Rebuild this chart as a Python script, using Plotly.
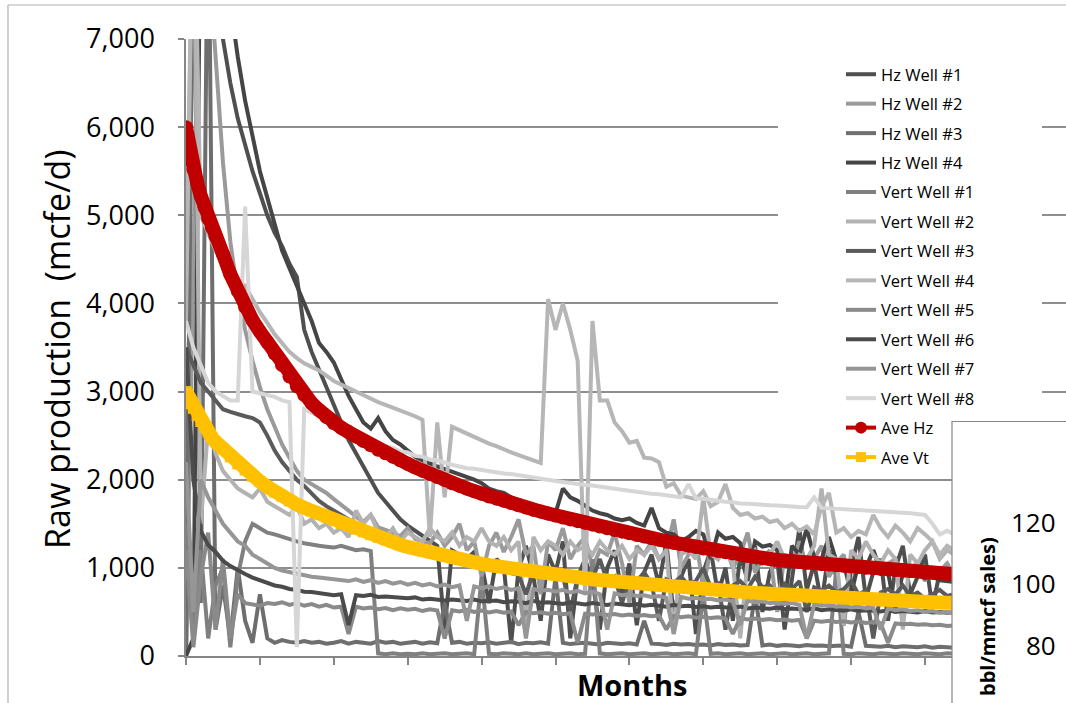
import plotly.graph_objects as go

# x positions (months index) for the individual wells
MONTHS = list(range(105))
# finer month positions for the two average curves (dense markers at start)
AVE_MONTHS = [0, 0.25, 0.5, 0.75, 1, 1.5, 2, 2.5, 3, 3.5] + list(range(4, 105))

HZ1 = [0, 9000, 9000, 8200, 7500, 7000, 6500, 6100, 5800, 5500,
       5250, 5000, 4800, 4650, 4450, 4300, 3700, 3450, 3250, 3050,
       2850, 2650, 2450, 2300, 2150, 2000, 1850, 1750, 1650, 1550,
       1480, 1420, 1360, 1300, 1250, 300, 1200, 1150, 1100, 1180,
       1050, 600, 1100, 1020, 150, 980, 1250, 900, 400, 1150,
       950, 1300, 200, 900, 1100, 850, 300, 1000, 1200, 700,
       1050, 350, 950, 1150, 800, 1300, 450, 900, 1100, 250,
       950, 1200, 700, 1000, 400, 1150, 850, 1250, 500, 950,
       1100, 300, 900, 1450, 750, 1050, 600, 1200, 900, 350,
       1000, 1350, 650, 950, 1100, 400, 1000, 1250, 700, 900,
       1150, 550, 950, 1050, 800]

HZ2 = [0, 4300, 9000, 8000, 6800, 5600, 4700, 4100, 3700, 3350,
       3050, 2800, 2600, 2400, 2250, 2100, 2000, 1950, 1900, 1850,
       1780, 1720, 1650, 1580, 1520, 1600, 1460, 1430, 1390, 1360,
       1450, 1330, 1300, 1280, 1400, 1250, 1350, 1500, 1200, 1300,
       900, 1250, 1400, 1180, 1350, 1550, 1150, 1250, 700, 1300,
       1200, 1450, 1100, 1250, 1350, 1000, 1200, 1150, 1400, 1050,
       600, 1250, 1150, 1300, 1100, 1200, 1550, 1000, 1150, 1300,
       800, 1200, 1100, 1250, 1000, 1150, 1400, 950, 1100, 1200,
       500, 1150, 1050, 1300, 1000, 1100, 1250, 900, 1050, 1150,
       750, 1100, 1000, 1200, 950, 1050, 1100, 900, 1000, 1050,
       850, 1000, 950, 1050, 900]

HZ3 = [0, 9000, 600, 9000, 300, 800, 200, 1000, 400, 150,
       700, 200, 150, 180, 160, 150, 170, 150, 160, 140,
       150, 170, 140, 160, 150, 140, 170, 150, 160, 140,
       150, 160, 140, 155, 145, 600, 150, 160, 140, 150,
       145, 155, 140, 150, 160, 135, 150, 145, 155, 140,
       900, 150, 135, 145, 150, 140, 130, 150, 140, 135,
       145, 130, 400, 140, 135, 125, 140, 130, 135, 125,
       130, 120, 135, 125, 130, 120, 125, 700, 120, 130,
       115, 125, 120, 110, 125, 115, 120, 110, 115, 120,
       105, 500, 115, 110, 105, 115, 100, 110, 105, 100,
       110, 95, 105, 100, 95]

HZ4 = [0, 200, 9000, 9000, 8500, 8000, 7400, 6800, 6300, 5900,
       5500, 5200, 4900, 4600, 4400, 4200, 4000, 3800, 3550, 3450,
       3330, 3150, 2950, 2800, 2650, 2580, 2700, 2550, 2450, 2400,
       2330, 2260, 2220, 2180, 2150, 2120, 2090, 2070, 2040, 2000,
       1960, 1900, 1870, 1850, 1800, 1760, 1720, 1690, 1660, 1640,
       1620, 1900, 1800, 1760, 1700, 1650, 1620, 1600, 1560, 1540,
       1560, 1510, 1480, 1680, 1450, 1400, 1380, 1300, 1350, 1420,
       1380, 1100, 1400, 1330, 1350, 1280, 900, 1300, 1240, 1260,
       1200, 600, 1250, 1150, 1450, 1120, 1100, 1350, 1080, 1060,
       700, 1050, 1000, 1200, 980, 950, 500, 960, 930, 920,
       880, 900, 860, 850, 840]

VT1 = [1500, 300, 1200, 200, 800, 1000, 100, 900, 1300, 1500,
       1450, 1400, 1380, 1350, 1320, 1300, 1280, 1260, 1250, 1240,
       1230, 1250, 1220, 1200, 1210, 1190, 30, 20, 30, 20,
       25, 20, 30, 20, 25, 30, 20, 25, 30, 20,
       900, 25, 20, 30, 25, 20, 30, 20, 25, 30,
       20, 25, 30, 20, 25, 1100, 30, 20, 25, 30,
       20, 25, 30, 20, 25, 30, 20, 25, 30, 20,
       700, 25, 30, 20, 25, 30, 20, 25, 30, 20,
       25, 30, 20, 25, 30, 20, 25, 30, 1000, 25,
       20, 30, 25, 20, 30, 25, 20, 30, 25, 20,
       30, 25, 20, 30, 25]

VT2 = [3800, 9000, 1500, 2600, 2300, 2100, 2000, 1900, 1850, 1800,
       1900, 1750, 1700, 1650, 1600, 1700, 1500, 1550, 1450, 1500,
       1400, 1450, 1350, 1650, 1500, 1600, 1400, 1350, 1450, 1300,
       1400, 1350, 1300, 1450, 1350, 1300, 1400, 1250, 1350, 1300,
       1450, 1300, 1250, 1350, 1200, 1300, 300, 1350, 1200, 1300,
       1250, 1150, 1300, 1200, 1250, 1150, 1300, 1200, 1150, 1250,
       1100, 1200, 1150, 1250, 1100, 1200, 250, 1150, 1200, 1100,
       1800, 1150, 1100, 1200, 1050, 200, 1100, 1200, 1050, 1150,
       1300, 1100, 1050, 1150, 1100, 1250, 1900, 1150, 1100, 350,
       1200, 1100, 1300, 1150, 1050, 1200, 1100, 300, 1150, 1050,
       1200, 1300, 1100, 1200, 1150]

VT3 = [3500, 3300, 3100, 3000, 2900, 2800, 2770, 2740, 2720, 2700,
       2650, 2500, 2330, 2200, 2100, 2000, 1930, 1850, 1760, 1700,
       1650, 1600, 1550, 1500, 1450, 1420, 1380, 1340, 1300, 1270,
       1240, 1210, 1180, 1150, 1130, 1100, 1080, 1060, 1040, 1020,
       1000, 980, 960, 1050, 940, 920, 700, 950, 900, 1000,
       880, 920, 500, 900, 950, 870, 1100, 850, 900, 600,
       880, 850, 950, 820, 400, 870, 830, 900, 800, 850,
       1000, 780, 820, 300, 800, 850, 760, 900, 780, 800,
       700, 820, 760, 850, 500, 780, 740, 800, 720, 760,
       850, 700, 740, 200, 720, 760, 700, 800, 680, 720,
       650, 700, 750, 680, 700]

VT4 = [4300, 9000, 5000, 4800, 4600, 4450, 4350, 4250, 4200, 4050,
       3900, 3780, 3650, 3550, 3450, 3380, 3320, 3280, 3240, 3180,
       3120, 3080, 3040, 2990, 2950, 2910, 2880, 2850, 2820, 2790,
       2760, 2720, 2680, 1350, 2650, 1800, 2600, 2560, 2520, 2480,
       2450, 2410, 2380, 2340, 2310, 2280, 2250, 2220, 2190, 4050,
       3700, 4000, 3700, 3350, 700, 3800, 2900, 2900, 2650, 2550,
       2420, 2440, 2250, 2240, 2200, 1920, 1960, 1820, 1800, 1780,
       1870, 1700, 1750, 1950, 1680, 1600, 1620, 1560, 1580, 1520,
       1540, 1450, 1500, 1420, 1470, 1380, 1700, 1850, 1400, 1450,
       1350, 1420, 1380, 1600, 1450, 1350, 1480, 1400, 1300, 1450,
       1380, 1300, 1150, 1250, 1200]

VT5 = [1200, 100, 900, 1400, 300, 1100, 200, 700, 600, 580,
       570, 600, 590, 610, 580, 600, 570, 590, 560, 580,
       550, 560, 250, 560, 540, 550, 530, 545, 520, 540,
       525, 535, 510, 530, 515, 200, 520, 505, 525, 500,
       515, 495, 510, 490, 505, 350, 500, 485, 495, 480,
       490, 475, 485, 150, 480, 470, 480, 465, 475, 460,
       470, 455, 465, 450, 460, 300, 455, 440, 450, 435,
       445, 430, 440, 425, 250, 430, 415, 425, 410, 420,
       405, 415, 400, 410, 200, 400, 390, 400, 385, 395,
       380, 390, 375, 385, 370, 150, 370, 360, 365, 355,
       360, 350, 355, 340, 345]

VT6 = [3500, 2000, 1420, 1260, 1180, 1080, 1020, 970, 930, 890,
       860, 830, 800, 785, 760, 750, 730, 725, 710, 705,
       690, 700, 350, 690, 680, 695, 670, 675, 665, 660,
       655, 665, 640, 650, 645, 630, 640, 635, 625, 640,
       620, 625, 630, 610, 620, 615, 600, 625, 605, 610,
       600, 590, 610, 595, 585, 600, 590, 580, 595, 585,
       575, 590, 570, 580, 575, 560, 580, 565, 570, 555,
       565, 550, 560, 555, 545, 560, 540, 550, 545, 535,
       550, 530, 540, 535, 525, 540, 520, 530, 525, 515,
       530, 510, 520, 515, 505, 520, 500, 510, 505, 495,
       510, 495, 500, 490, 495]

VT7 = [2200, 500, 2000, 1800, 1650, 1500, 1400, 1300, 1250, 1150,
       1100, 1050, 1000, 970, 950, 930, 910, 900, 890, 880,
       870, 860, 850, 870, 840, 860, 830, 850, 820, 840,
       810, 830, 800, 820, 790, 810, 780, 800, 400, 790,
       770, 790, 760, 780, 750, 770, 200, 760, 740, 750,
       730, 750, 720, 740, 710, 730, 700, 300, 710, 690,
       700, 680, 690, 670, 680, 660, 250, 670, 650, 660,
       640, 650, 630, 640, 620, 350, 630, 610, 620, 600,
       610, 590, 600, 580, 200, 590, 570, 580, 560, 570,
       550, 560, 540, 550, 300, 540, 520, 530, 510, 520,
       500, 510, 490, 500, 480]

VT8 = [3800, 3500, 3300, 3100, 3000, 2950, 2900, 2900, 5100, 3000,
       2980, 2960, 2940, 2900, 2880, 100, 2800, 2760, 2720, 2690,
       2640, 2610, 2570, 2530, 2480, 2450, 2420, 2380, 2360, 2320,
       2310, 2270, 2260, 2230, 2220, 2190, 2170, 2150, 2130, 2125,
       2110, 2100, 2085, 2070, 2065, 2050, 2035, 2025, 2005, 1995,
       1985, 1975, 1960, 1955, 1940, 1935, 1920, 1905, 1895, 1885,
       1875, 1860, 1855, 1840, 1835, 1820, 1815, 1800, 1950, 1790,
       1785, 1770, 1765, 1750, 1745, 1730, 1728, 1720, 1718, 1710,
       1708, 1700, 1698, 1690, 1688, 1800, 1680, 1676, 1670, 1668,
       1660, 1658, 1650, 1648, 1640, 1638, 1630, 1626, 1620, 1610,
       1600, 1500, 1380, 1420, 1380]

AVE_HZ = [6000, 5860, 5720, 5610, 5520, 5370, 5220, 5090, 4960, 4860,
          4760, 4560, 4330, 4140, 3960, 3810, 3680, 3560, 3430, 3300,
          3170, 3060, 2960, 2870, 2790, 2710, 2640, 2590, 2540, 2490,
          2440, 2390, 2340, 2300, 2260, 2220, 2180, 2140, 2100, 2065,
          2030, 1995, 1960, 1930, 1900, 1870, 1840, 1810, 1785, 1760,
          1735, 1710, 1685, 1660, 1638, 1616, 1594, 1572, 1550, 1530,
          1510, 1490, 1470, 1450, 1430, 1411, 1392, 1373, 1355, 1337,
          1319, 1302, 1285, 1268, 1252, 1236, 1220, 1205, 1190, 1176,
          1162, 1148, 1135, 1122, 1110, 1100, 1090, 1082, 1074, 1066,
          1058, 1051, 1044, 1037, 1030, 1023, 1016, 1009, 1002, 995,
          988, 981, 975, 969, 963, 957, 951, 945, 939, 933, 927]

AVE_VT = [3000, 2960, 2910, 2860, 2810, 2730, 2660, 2600, 2540, 2480,
          2430, 2350, 2260, 2180, 2110, 2040, 1980, 1920, 1860, 1810,
          1760, 1720, 1680, 1645, 1610, 1575, 1540, 1505, 1472, 1440,
          1408, 1377, 1347, 1318, 1289, 1262, 1238, 1215, 1193, 1172,
          1152, 1133, 1114, 1096, 1079, 1062, 1046, 1031, 1017, 1003,
          990, 977, 965, 953, 942, 931, 920, 910, 900, 890,
          880, 871, 862, 853, 845, 837, 829, 821, 813, 806,
          799, 792, 785, 778, 771, 764, 758, 752, 746, 740,
          734, 728, 722, 716, 710, 704, 699, 694, 689, 684,
          679, 674, 669, 665, 661, 657, 653, 649, 645, 641,
          637, 633, 629, 625, 621, 617, 614, 611, 608, 605, 602]

WELL_NAMES = ["Hz Well #1", "Hz Well #2", "Hz Well #3", "Hz Well #4",
              "Vert Well #1", "Vert Well #2", "Vert Well #3", "Vert Well #4",
              "Vert Well #5", "Vert Well #6", "Vert Well #7", "Vert Well #8"]
WELL_DATA = [HZ1, HZ2, HZ3, HZ4, VT1, VT2, VT3, VT4, VT5, VT6, VT7, VT8]
WELL_COLORS = ["#4f4f4f", "#9a9a9a", "#6e6e6e", "#454545",
               "#808080", "#b2b2b2", "#5a5a5a", "#b6b6b6",
               "#8a8a8a", "#4b4b4b", "#969696", "#d6d6d6"]

FONT = "Open Sans"
fig = go.Figure()

for i, (name, vals, col) in enumerate(zip(WELL_NAMES, WELL_DATA, WELL_COLORS)):
    fig.add_trace(go.Scatter(x=MONTHS[:len(vals)], y=vals, mode="lines", name=name,
                             line=dict(color=col, width=4), legendgroup=f"g{i}"))

fig.add_trace(go.Scatter(x=AVE_MONTHS[:len(AVE_HZ)], y=AVE_HZ, mode="lines+markers", name="Ave Hz",
                         line=dict(color="#c00000", width=14),
                         marker=dict(symbol="circle", size=14, color="#c00000"),
                         showlegend=False, legendgroup="hz"))
fig.add_trace(go.Scatter(x=AVE_MONTHS[:len(AVE_VT)], y=AVE_VT, mode="lines+markers", name="Ave Vt",
                         line=dict(color="#ffc000", width=14),
                         marker=dict(symbol="square", size=11, color="#ffc000"),
                         showlegend=False, legendgroup="vt"))
# legend entries for averages
fig.add_trace(go.Scatter(x=[None], y=[None], mode="lines+markers", name="Ave Hz",
                         line=dict(color="#c00000", width=4),
                         marker=dict(symbol="circle", size=12, color="#c00000"),
                         legendgroup="hz"))
fig.add_trace(go.Scatter(x=[None], y=[None], mode="lines+markers", name="Ave Vt",
                         line=dict(color="#ffc000", width=4),
                         marker=dict(symbol="square", size=10, color="#ffc000"),
                         legendgroup="vt"))

L, R, T, B = 186, 0, 39, 47
W, H = 1066, 703
PW = W - L - R
PH = H - T - B

def px(xp):
    return (xp - L) / PW

def py(yp):
    return (H - B - yp) / PH

GRID = "#8e8e8e"
AXIS = "#868686"

fig.update_layout(
    width=W, height=H,
    margin=dict(l=L, r=R, t=T, b=B, pad=0),
    plot_bgcolor="white", paper_bgcolor="white",
    font=dict(family=FONT, color="black"),
    showlegend=True,
    legend=dict(x=px(841), y=py(57), xanchor="left", yanchor="top",
                bgcolor="rgba(0,0,0,0)", borderwidth=0,
                font=dict(family=FONT, size=16.5, color="black"),
                traceorder="grouped", tracegroupgap=5),
    xaxis=dict(range=[0, 119.08], showgrid=False, zeroline=False,
               showline=True, linecolor=AXIS, linewidth=1.5,
               ticks="outside", ticklen=7, tickcolor=AXIS, tickwidth=1.5,
               tick0=0, dtick=10, showticklabels=False),
    yaxis=dict(range=[0, 7000], dtick=1000, tick0=0, showgrid=True,
               gridcolor=GRID, gridwidth=1.5, zeroline=False,
               showline=True, linecolor=AXIS, linewidth=1.5,
               ticks="outside", ticklen=6, tickcolor=AXIS, tickwidth=1.5,
               tickformat=",d", ticklabelstandoff=18,
               tickfont=dict(family=FONT, size=27, color="black")),
)

shapes = [
    # legend backdrop
    dict(type="rect", xref="paper", yref="paper", x0=px(778), x1=px(1042), y0=py(475), y1=py(45),
         fillcolor="white", line=dict(width=0), layer="above"),
    # overlapping second chart box
    dict(type="rect", xref="paper", yref="paper", x0=px(952), x1=px(1200), y0=py(800), y1=py(421.5),
         fillcolor="white", line=dict(color=AXIS, width=1.2), layer="above"),
    # outer chart border
    dict(type="line", xref="paper", yref="paper", x0=px(8), x1=px(8), y0=py(710), y1=py(5),
         line=dict(color="#b0b0b0", width=1.2), layer="above"),
    dict(type="line", xref="paper", yref="paper", x0=px(8), x1=px(1080), y0=py(5), y1=py(5),
         line=dict(color="#b0b0b0", width=1.2), layer="above"),
]
fig.update_layout(shapes=shapes)

ann = [
    dict(text="Raw production  (mcfe/d)", x=px(57), y=py(350), xref="paper", yref="paper",
         textangle=-90, showarrow=False, xanchor="center", yanchor="middle",
         font=dict(family=FONT, size=34, color="black")),
    dict(text="<b>Months</b>", x=px(632), y=py(684), xref="paper", yref="paper",
         showarrow=False, xanchor="center", yanchor="middle",
         font=dict(family=FONT, size=29, color="black")),
    dict(text="120", x=px(1058), y=py(522), xref="paper", yref="paper", showarrow=False,
         xanchor="right", yanchor="middle", font=dict(family=FONT, size=26, color="black")),
    dict(text="100", x=px(1058), y=py(583), xref="paper", yref="paper", showarrow=False,
         xanchor="right", yanchor="middle", font=dict(family=FONT, size=26, color="black")),
    dict(text="80", x=px(1058), y=py(645), xref="paper", yref="paper", showarrow=False,
         xanchor="right", yanchor="middle", font=dict(family=FONT, size=26, color="black")),
    dict(text="60", x=px(1058), y=py(712), xref="paper", yref="paper", showarrow=False,
         xanchor="right", yanchor="middle", font=dict(family=FONT, size=26, color="black")),
    dict(text="<b>bbl/mmcf sales)</b>", x=px(987), y=py(617), xref="paper", yref="paper",
         textangle=-90, showarrow=False, xanchor="center", yanchor="middle",
         font=dict(family=FONT, size=20, color="black")),
]
fig.update_layout(annotations=ann)

fig.write_html("out.html", config={"displayModeBar": False},
               post_script="document.body.style.margin='0';document.body.style.padding='0';"
                           "document.body.style.overflow='hidden';")
